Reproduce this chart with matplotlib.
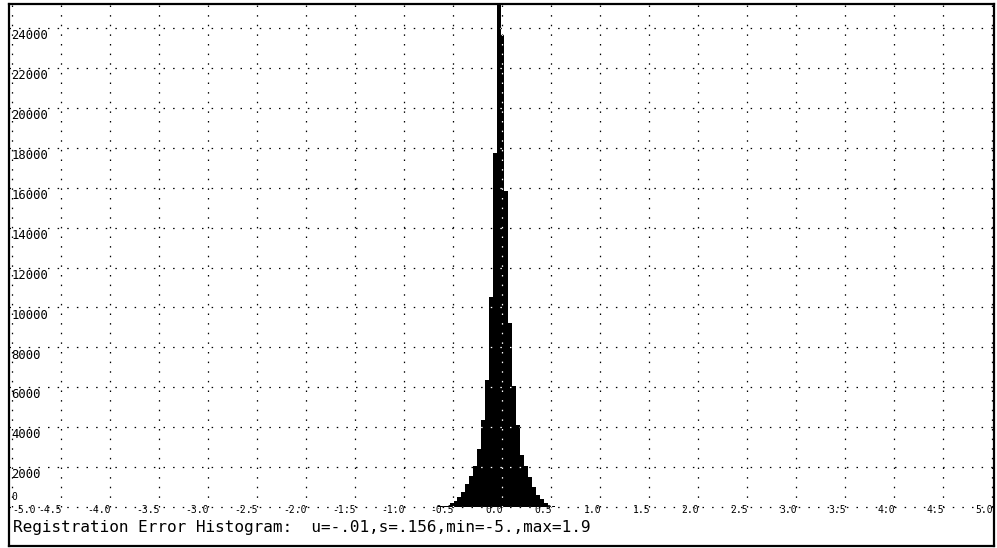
# Registration error histogram (recreation)
import numpy as np
import matplotlib.pyplot as plt

plt.rcParams['font.family'] = 'DejaVu Sans Mono'

# bin width and counts (left to right)
bin_width = 0.04
first_edge = -0.655
counts = [30, 60, 70, 180, 300, 510, 760, 1150, 1550, 2050, 2930, 4340,
          6370, 10530, 17750, 27500, 23650, 15820, 9200, 6040, 4090,
          2590, 2050, 1510, 1010, 600, 380, 185, 65, 40, 20]
edges = first_edge + bin_width * np.arange(len(counts) + 1)

y_ticks = list(range(0, 24001, 2000))
x_ticks = [round(-5.0 + 0.5 * i, 1) for i in range(21)]
caption = 'Registration Error Histogram:  u=-.01,s=.156,min=-5.,max=1.9'

fig = plt.figure(figsize=(9.97, 5.48), dpi=100)
ax = fig.add_axes([9 / 997, 2 / 548, 985 / 997, 542 / 548])
ax.set_xlim(-5.031, 5.02)
ax.set_ylim(-1950, 25200)
ax.set_xticks([])
ax.set_yticks([])
for s in ax.spines.values():
    s.set_linewidth(1.6)
    s.set_color('black')

hist = ax.stairs(counts, edges, fill=True, color='black', linewidth=0, zorder=2)

dots = (0, (1.2, 6.5))
top = ax.get_ylim()[1]
for color, z in [('black', 1), ('white', 3)]:
    lines = []
    for xv in x_ticks:
        lines += ax.plot([xv, xv], [0, top], color=color, lw=0.9,
                         linestyle=dots, zorder=z)
    for yv in y_ticks:
        lines += ax.plot([-5.031, 5.02], [yv, yv], color=color, lw=0.9,
                         linestyle=dots, zorder=z)
    if color == 'white':
        for ln in lines:
            ln.set_clip_path(hist)

# y labels just below their grid line, at the left edge
for yv in y_ticks:
    if yv == 0:
        ax.text(-5.005, yv + 260, '0', fontsize=7, ha='left', va='bottom', zorder=4)
    else:
        ax.text(-5.01, yv - 60, str(yv), fontsize=8.8, ha='left', va='top', zorder=4)

# x labels along the zero line
for xv in x_ticks:
    if xv == -5.0:
        ax.text(xv, 100, '%.1f' % xv, fontsize=7, ha='left', va='top', zorder=4)
    else:
        ax.text(xv + 0.01, 100, '%.1f' % xv, fontsize=7, ha='right', va='top', zorder=4)

ax.text(-4.99, -1240, caption, fontsize=11.5, ha='left', va='baseline')

fig.savefig('out.png', dpi=100)
